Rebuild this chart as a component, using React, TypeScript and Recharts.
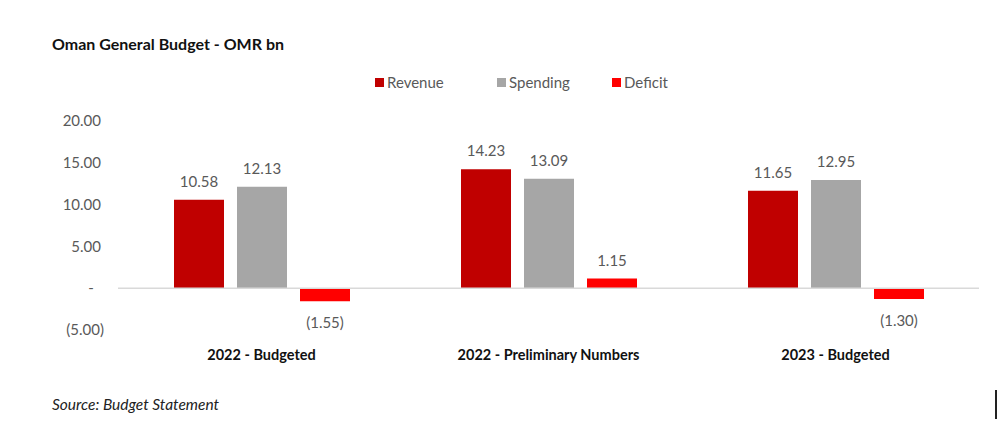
import React from "react";
import {
  BarChart, Bar, XAxis, YAxis, ReferenceLine, LabelList
} from "recharts";

const categories = ["2022 - Budgeted", "2022 - Preliminary Numbers", "2023 - Budgeted"];
const revenue = [10.58, 14.23, 11.65];
const spending = [12.13, 13.09, 12.95];
const deficit = [-1.55, 1.15, -1.3];
const yTicks = [-5, 0, 5, 10, 15, 20];

const FONT = "Lato, 'Open Sans', sans-serif";
const GREY_TEXT = "#595959";

const series = [
  { key: "revenue", name: "Revenue", color: "#C00000" },
  { key: "spending", name: "Spending", color: "#A6A6A6" },
  { key: "deficit", name: "Deficit", color: "#FF0000" },
];
const legendWidths = [122, 115, 80];

const chartData = categories.map((name, i) => ({
  name,
  revenue: revenue[i],
  spending: spending[i],
  deficit: deficit[i],
}));

// Excel-style accounting format: negatives in brackets, zero as a dash
const fmt = (v: number) => {
  if (v === 0) return "-";
  const s = Math.abs(v).toFixed(2);
  return v < 0 ? `(${s})` : s;
};

const YTick = (props: any) => {
  const { y, payload } = props;
  const v = payload.value as number;
  if (v === 0) {
    return (
      <text x={91} y={y} dy="0.35em" textAnchor="middle" fill={GREY_TEXT} fontSize={15} fontFamily={FONT}>-</text>
    );
  }
  return (
    <text x={v < 0 ? 104 : 101} y={y} dy="0.35em" textAnchor="end" fill={GREY_TEXT} fontSize={15} fontFamily={FONT}>
      {fmt(v)}
    </text>
  );
};

const ValueLabel = (props: any) => {
  const { x, y, width, height, value } = props;
  const top = Math.min(y, y + height);
  const bottom = Math.max(y, y + height);
  const cx = x + width / 2;
  if (value < 0) {
    return (
      <text x={cx} y={bottom + 22} textAnchor="middle" dy="0.35em" fill={GREY_TEXT} fontSize={15} fontFamily={FONT}>
        {fmt(value)}
      </text>
    );
  }
  return (
    <text x={cx} y={top - 13} textAnchor="middle" fill={GREY_TEXT} fontSize={15} fontFamily={FONT}>
      {fmt(value)}
    </text>
  );
};

export default function App() {
  return (
    <div style={{ position: "fixed", left: 0, top: 0, width: 1000, height: 446, background: "#fff", fontFamily: FONT }}>
      <div style={{ position: "absolute", left: 52, top: 34, fontSize: 16, fontWeight: 700, color: "#111" }}>
        Oman General Budget - OMR bn
      </div>
      {/* legend */}
      <div style={{ position: "absolute", left: 375, top: 73, display: "flex", fontSize: 15, color: GREY_TEXT }}>
        {series.map((s, i) => (
          <div key={s.key} style={{ display: "flex", alignItems: "center", width: legendWidths[i] }}>
            <span style={{ width: 9, height: 9, background: s.color, marginRight: 3, display: "inline-block" }} />
            <span>{s.name}</span>
          </div>
        ))}
      </div>
      <BarChart
        width={1000}
        height={446}
        data={chartData}
        margin={{ top: 121, right: 21, bottom: 86, left: 0 }}
        barSize={50}
        barGap={13}
      >
        <YAxis
          width={118}
          domain={[-5, 20]}
          ticks={yTicks}
          axisLine={false}
          tickLine={false}
          tick={<YTick />}
        />
        <XAxis
          dataKey="name"
          height={30}
          axisLine={false}
          tickLine={false}
          tickMargin={14}
          tick={{ fill: "#111", fontSize: 14.5, fontWeight: 700, fontFamily: FONT }}
        />
        <ReferenceLine y={0} stroke="#D9D9D9" strokeWidth={1.5} />
        {series.map((s) => (
          <Bar key={s.key} dataKey={s.key} name={s.name} fill={s.color} isAnimationActive={false}>
            <LabelList dataKey={s.key} content={<ValueLabel />} />
          </Bar>
        ))}
      </BarChart>
      <div style={{ position: "absolute", left: 52, top: 395, fontSize: 15.5, fontStyle: "italic", color: "#222" }}>
        Source: Budget Statement
      </div>
      <div style={{ position: "absolute", left: 995, top: 390, width: 2, height: 29, background: "#222" }} />
    </div>
  );
}
